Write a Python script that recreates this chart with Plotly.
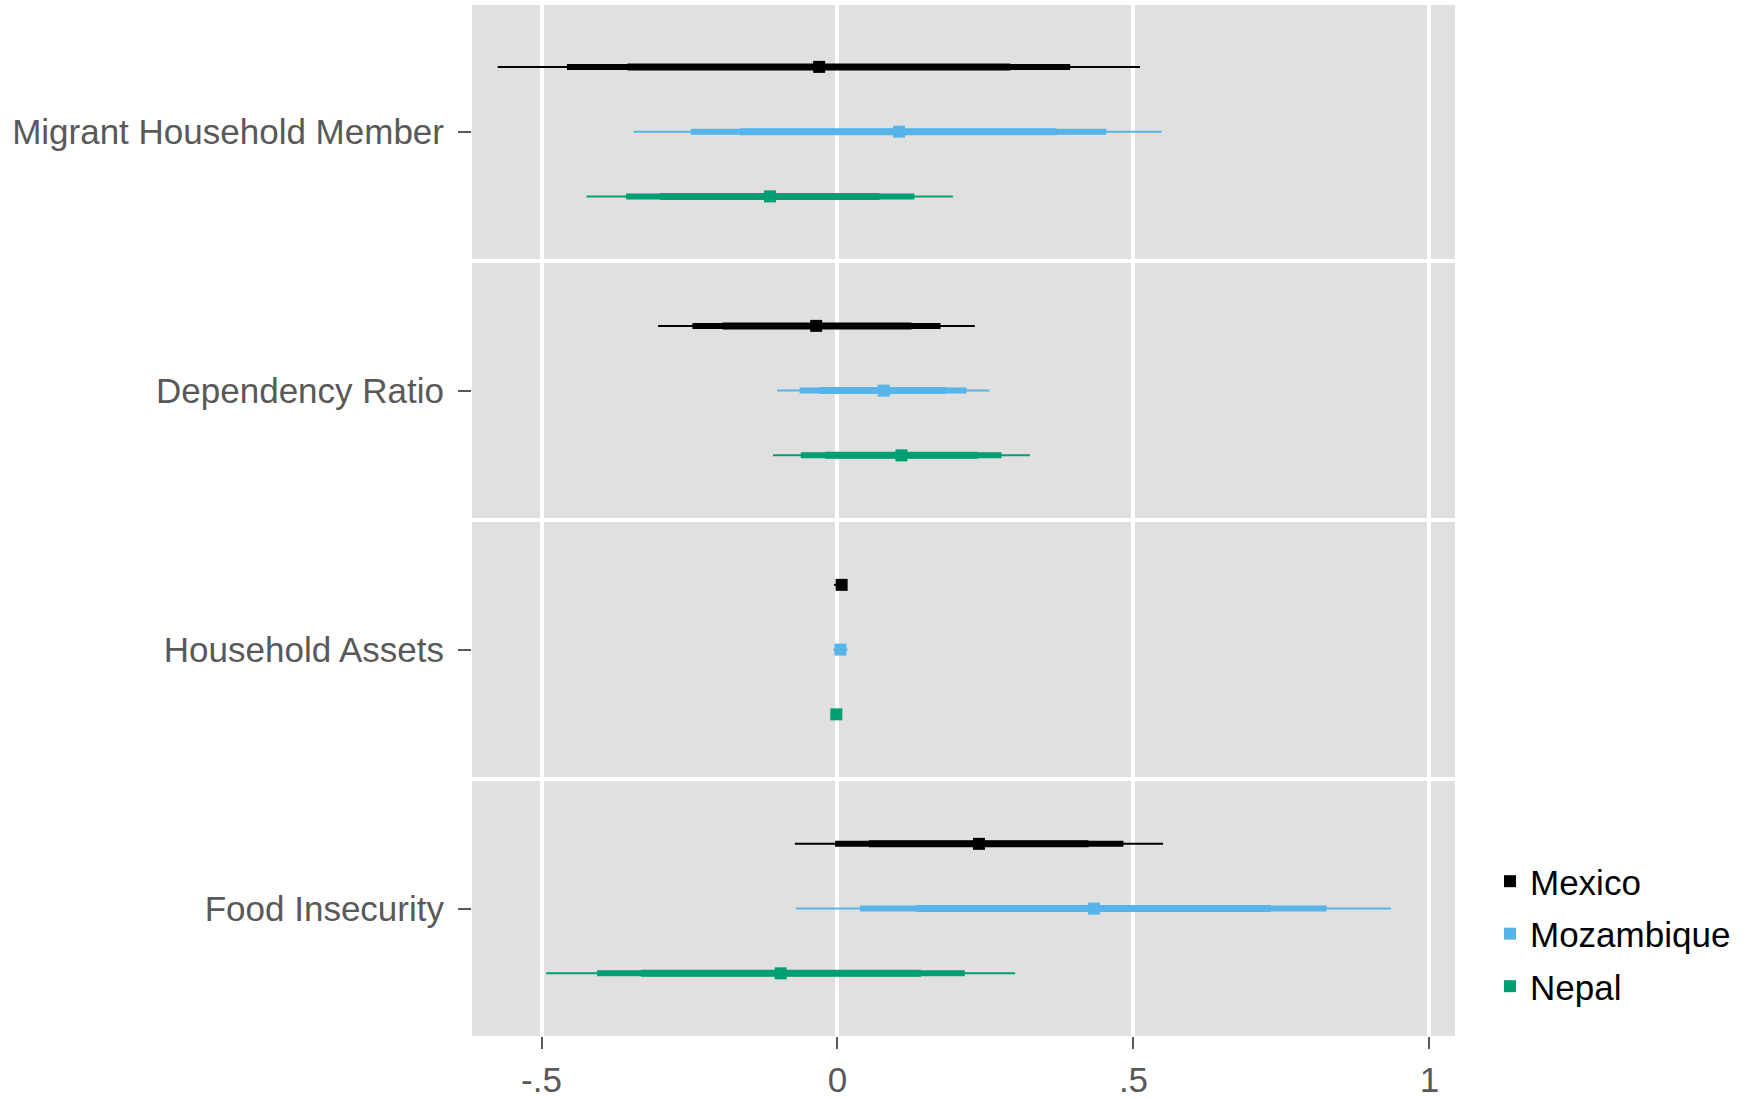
import plotly.graph_objects as go

# Outcome categories, bottom to top on the y axis
categories = ["Food Insecurity", "Household Assets", "Dependency Ratio", "Migrant Household Member"]
countries = ["Mexico", "Mozambique", "Nepal"]
colors = {"Mexico": "#000000", "Mozambique": "#56B4E9", "Nepal": "#009E73"}
row_offset = {"Mexico": 0.25, "Mozambique": 0.0, "Nepal": -0.25}

# Point estimates and nested intervals (outer / middle / inner), one value per category
mexico_est = [0.239, 0.007, -0.036, -0.031]
mexico_outer_lo = [-0.072, -0.006, -0.303, -0.574]
mexico_outer_hi = [0.550, 0.016, 0.232, 0.511]
mexico_mid_lo = [-0.004, -0.002, -0.245, -0.457]
mexico_mid_hi = [0.483, 0.014, 0.174, 0.393]
mexico_inner_lo = [0.053, 0.001, -0.194, -0.355]
mexico_inner_hi = [0.424, 0.012, 0.125, 0.292]

mozambique_est = [0.433, 0.005, 0.078, 0.104]
mozambique_outer_lo = [-0.070, -0.007, -0.102, -0.344]
mozambique_outer_hi = [0.935, 0.017, 0.257, 0.548]
mozambique_mid_lo = [0.038, -0.004, -0.064, -0.248]
mozambique_mid_hi = [0.826, 0.014, 0.218, 0.454]
mozambique_inner_lo = [0.132, -0.002, -0.030, -0.165]
mozambique_inner_hi = [0.732, 0.012, 0.184, 0.370]

nepal_est = [-0.096, -0.002, 0.108, -0.114]
nepal_outer_lo = [-0.492, -0.008, -0.109, -0.424]
nepal_outer_hi = [0.300, 0.003, 0.325, 0.195]
nepal_mid_lo = [-0.406, -0.007, -0.062, -0.357]
nepal_mid_hi = [0.215, 0.002, 0.277, 0.130]
nepal_inner_lo = [-0.332, -0.006, -0.021, -0.300]
nepal_inner_hi = [0.141, 0.001, 0.237, 0.071]

x_tickvals = [-0.5, 0, 0.5, 1]
x_ticktext = ["-.5", "0", ".5", "1"]

series = {
    "Mexico": dict(est=mexico_est,
                   outer=(mexico_outer_lo, mexico_outer_hi),
                   mid=(mexico_mid_lo, mexico_mid_hi),
                   inner=(mexico_inner_lo, mexico_inner_hi)),
    "Mozambique": dict(est=mozambique_est,
                       outer=(mozambique_outer_lo, mozambique_outer_hi),
                       mid=(mozambique_mid_lo, mozambique_mid_hi),
                       inner=(mozambique_inner_lo, mozambique_inner_hi)),
    "Nepal": dict(est=nepal_est,
                  outer=(nepal_outer_lo, nepal_outer_hi),
                  mid=(nepal_mid_lo, nepal_mid_hi),
                  inner=(nepal_inner_lo, nepal_inner_hi)),
}
widths = {"outer": 2, "mid": 6, "inner": 7}

FONT = "Liberation Sans, Arial, Helvetica, sans-serif"
fig = go.Figure()

for c in countries:
    s = series[c]
    ys = [i + 1 + row_offset[c] for i in range(len(categories))]
    for level in ["outer", "mid", "inner"]:
        lo, hi = s[level]
        xs, yy = [], []
        for a, b, y in zip(lo, hi, ys):
            xs += [a, b, None]
            yy += [y, y, None]
        fig.add_trace(go.Scatter(x=xs, y=yy, mode="lines",
                                 line=dict(color=colors[c], width=widths[level]),
                                 showlegend=False, hoverinfo="skip"))

for c in countries:
    ys = [i + 1 + row_offset[c] for i in range(len(categories))]
    fig.add_trace(go.Scatter(x=series[c]["est"], y=ys, mode="markers", name=c,
                             legendgroup=c,
                             marker=dict(symbol="square", size=12, color=colors[c],
                                         line=dict(width=0))))

# Dashed reference line at zero
fig.add_shape(type="line", xref="x", yref="paper", x0=0, x1=0, y0=0, y1=1,
              line=dict(color="#CC79A7", width=1.5, dash="10px,9px"), layer="between")

fig.update_layout(
    width=1752, height=1099,
    margin=dict(l=472, r=297, t=5, b=63),
    paper_bgcolor="white",
    plot_bgcolor="#E0E0E0",
    font=dict(family=FONT, size=35, color="#595959"),
    legend=dict(x=1.0356, y=0.099, xanchor="left", yanchor="middle",
                font=dict(family=FONT, size=35, color="#000000"),
                bgcolor="rgba(0,0,0,0)", traceorder="grouped", tracegroupgap=4),
)
fig.update_xaxes(range=[-0.6174, 1.0431], tickvals=x_tickvals, ticktext=x_ticktext,
                 showgrid=True, gridcolor="white", gridwidth=3.5, zeroline=False,
                 ticks="outside", ticklen=12, tickwidth=2, tickcolor="#595959",
                 ticklabelstandoff=1, showline=False, automargin=False)
fig.update_yaxes(range=[0.508, 4.489], tickvals=[1, 2, 3, 4], ticktext=categories,
                 showgrid=False, zeroline=False,
                 ticks="outside", ticklen=13, tickwidth=2, tickcolor="#595959",
                 ticklabelstandoff=7, automargin=False,
                 minor=dict(tickvals=[1.5, 2.5, 3.5], showgrid=True, gridcolor="white",
                            gridwidth=4, ticks=""),
                 showline=False)

fig.write_html("out.html")
